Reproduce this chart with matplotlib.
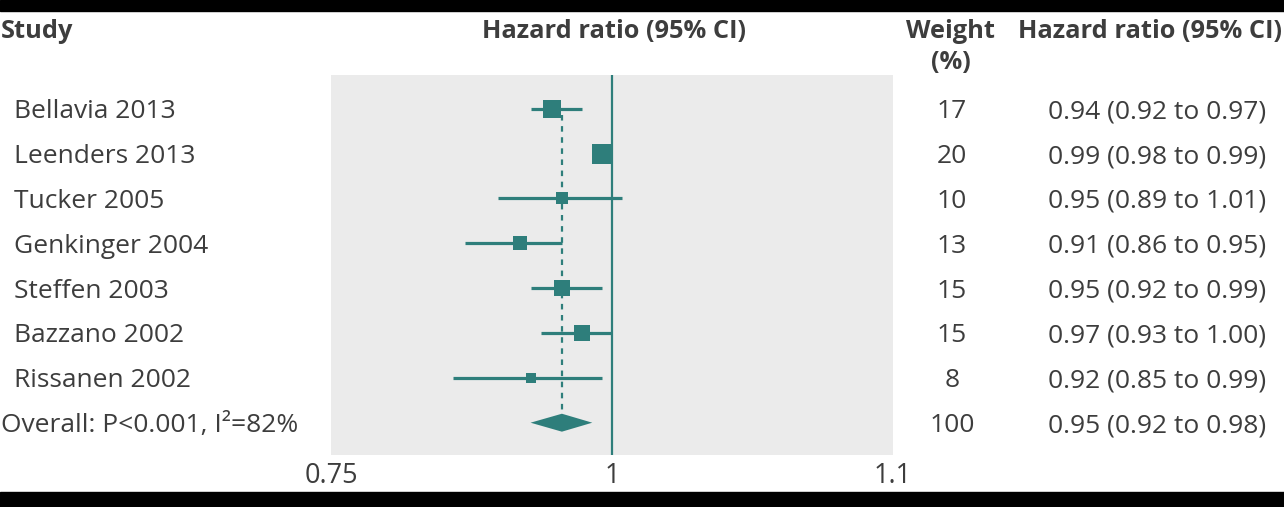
import matplotlib.pyplot as plt
import matplotlib.transforms as mtransforms
from matplotlib.patches import Rectangle

# study data
studies = ['Bellavia 2013', 'Leenders 2013', 'Tucker 2005', 'Genkinger 2004',
           'Steffen 2003', 'Bazzano 2002', 'Rissanen 2002']
hr = [0.94, 0.99, 0.95, 0.91, 0.95, 0.97, 0.92]
ci_low = [0.92, 0.98, 0.89, 0.86, 0.92, 0.93, 0.85]
ci_high = [0.97, 0.99, 1.01, 0.95, 0.99, 1.00, 0.99]
weights = [17, 20, 10, 13, 15, 15, 8]

overall_label = 'Overall: P<0.001, I²=82%'
overall_hr = 0.95
overall_low = 0.92
overall_high = 0.98
overall_weight = 100

tick_values = [0.75, 1.0, 1 / 0.75]
tick_labels = ['0.75', '1', '1.1']

TEAL = '#2e7e7b'
TEXT = '#3d3d3d'
W, H = 1284, 507

plt.rcParams['font.family'] = ['Open Sans', 'DejaVu Sans']

fig = plt.figure(figsize=(W / 100, H / 100), dpi=100)
# plot panel in pixel coords: x 331..893, y 75..455
ax = fig.add_axes([331 / W, (H - 455) / H, (893 - 331) / W, (455 - 75) / H])
ax.set_facecolor('#ebebeb')
for s in ax.spines.values():
    s.set_visible(False)

ax.set_xscale('log')
ax.set_xlim(tick_values[0], tick_values[-1])
ax.set_ylim(7.72, -0.75)
ax.set_xticks(tick_values)
ax.set_xticklabels(tick_labels)
ax.minorticks_off()
ax.tick_params(axis='x', length=0, pad=5, labelsize=19.5, labelcolor=TEXT)
ax.set_yticks([])

# line of no effect and overall estimate
ax.axvline(1.0, color=TEAL, lw=1.6)
ax.plot([overall_hr, overall_hr], [0.15, 6.8], color=TEAL, lw=1.6,
        ls=(0, (2.5, 2.5)))

for i in range(len(studies)):
    ax.plot([ci_low[i], ci_high[i]], [i, i], color=TEAL, lw=2.3,
            solid_capstyle='butt')
    side = (4 + 0.8 * weights[i]) * 0.72
    ax.plot(hr[i], i, marker='s', ms=side, color=TEAL, mec=TEAL, mew=0)

n = len(studies)
h = 0.2
ax.fill([overall_low, overall_hr, overall_high, overall_hr],
        [n, n - h, n, n + h], color=TEAL, lw=0)

# text columns
trans = mtransforms.blended_transform_factory(fig.transFigure, ax.transData)
fs = 19
for i, name in enumerate(studies):
    ax.text(14 / W, i, name, transform=trans, ha='left', va='center_baseline',
            fontsize=fs, color=TEXT)
    ax.text(952 / W, i, str(weights[i]), transform=trans, ha='center',
            va='center_baseline', fontsize=fs, color=TEXT)
    ax.text(1266 / W, i, '%.2f (%.2f to %.2f)' % (hr[i], ci_low[i], ci_high[i]),
            transform=trans, ha='right', va='center_baseline', fontsize=fs,
            color=TEXT)

ax.text(1 / W, n, overall_label, transform=trans, ha='left',
        va='center_baseline', fontsize=fs, color=TEXT)
ax.text(952 / W, n, str(overall_weight), transform=trans, ha='center',
        va='center_baseline', fontsize=fs, color=TEXT)
ax.text(1266 / W, n, '%.2f (%.2f to %.2f)' % (overall_hr, overall_low, overall_high),
        transform=trans, ha='right', va='center_baseline', fontsize=fs,
        color=TEXT)

# headers
hdr = dict(fontsize=18.3, color=TEXT, fontweight='bold', va='center_baseline')
fig.text(1 / W, 1 - 28 / H, 'Study', ha='left', **hdr)
fig.text(614 / W, 1 - 28 / H, 'Hazard ratio (95% CI)', ha='center', **hdr)
fig.text(951 / W, 1 - 28 / H, 'Weight', ha='center', **hdr)
fig.text(951 / W, 1 - 60 / H, '(%)', ha='center', **hdr)
fig.text(1018 / W, 1 - 28 / H, 'Hazard ratio (95% CI)', ha='left', **hdr)

# black bands top and bottom
fig.patches.append(Rectangle((0, 1 - 11 / H), 1, 11 / H, transform=fig.transFigure,
                             color='black', zorder=10))
fig.patches.append(Rectangle((0, 0), 1, 15 / H, transform=fig.transFigure,
                             color='black', zorder=10))

fig.savefig('out.png', dpi=100)
